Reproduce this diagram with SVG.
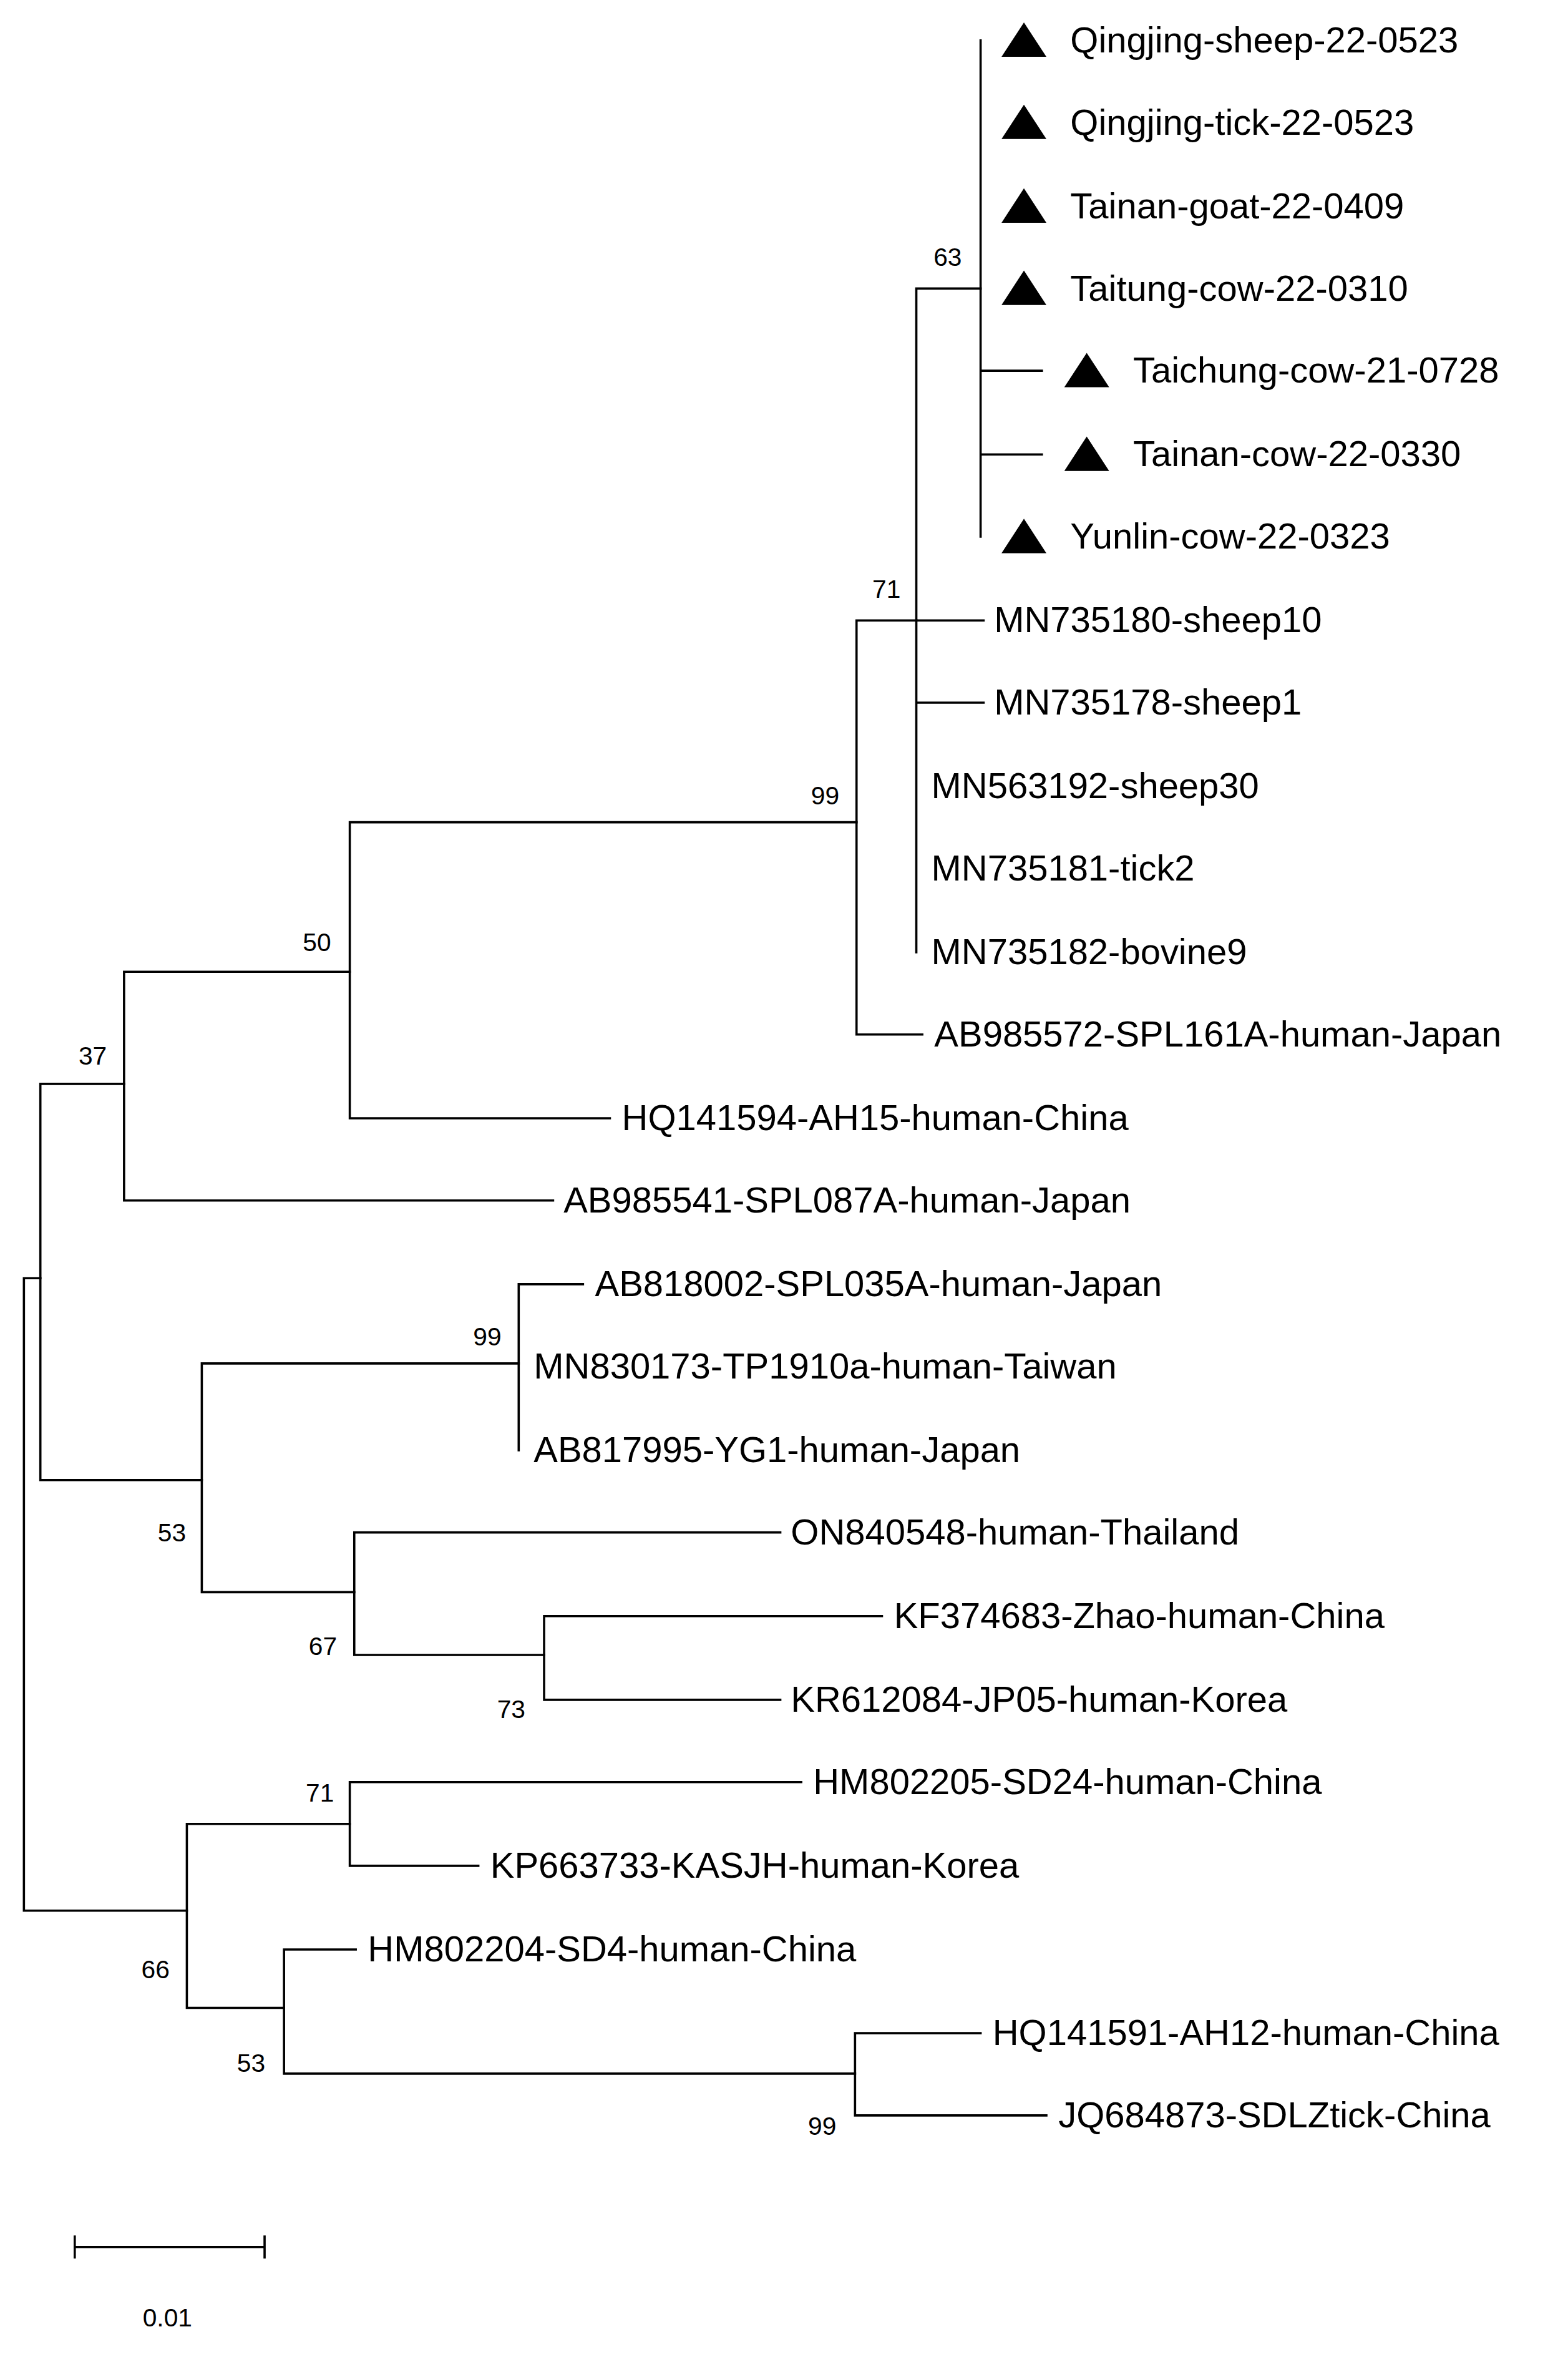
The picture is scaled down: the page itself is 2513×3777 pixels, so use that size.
<svg xmlns="http://www.w3.org/2000/svg" width="2513" height="3777" viewBox="0 0 2513 3777">
<style>
.e{stroke:#000;stroke-width:1.5;fill:none;stroke-linecap:square}
.l{font-family:"Liberation Sans",Arial,sans-serif;font-size:24.2px;fill:#000}
.b{font-family:"Liberation Sans",Arial,sans-serif;font-size:17px;fill:#000;text-anchor:middle}
.t{fill:#000}
</style>
<rect width="2513" height="3777" fill="#fff"/>
<g transform="scale(2.3957)">
<g id="connectors">
<path class="e" d="M16,855V1278M16,855H27M16,1278H125"/>
<path class="e" d="M27,725V990M27,725H83M27,990H135"/>
<path class="e" d="M83,650V803M83,650H234M83,803H370"/>
<path class="e" d="M234,550V748M234,550H573M234,748H408"/>
<path class="e" d="M573,415V692M573,415H613M573,692H617"/>
<path class="e" d="M613,193V637M613,193H656M613,415H658M613,470H658"/>
<path class="e" d="M656,27V359M656,248H697M656,304H697"/>
<path class="e" d="M135,912V1065M135,912H347M135,1065H237"/>
<path class="e" d="M347,859V970M347,859H390"/>
<path class="e" d="M237,1025V1107M237,1025H522M237,1107H364"/>
<path class="e" d="M364,1081V1137M364,1081H590M364,1137H522"/>
<path class="e" d="M125,1220V1343M125,1220H234M125,1343H190"/>
<path class="e" d="M234,1192V1248M234,1192H536M234,1248H320"/>
<path class="e" d="M190,1304V1387M190,1304H238M190,1387H572"/>
<path class="e" d="M572,1360V1415M572,1360H656M572,1415H700"/>
</g>
<g id="leaves">
<g id="n1"><polygon class="t" points="670,38 685,15 700,38"/><text class="l" x="716" y="35">Qingjing-sheep-22-0523</text></g>
<g id="n2"><polygon class="t" points="670,93 685,70 700,93"/><text class="l" x="716" y="90">Qingjing-tick-22-0523</text></g>
<g id="n3"><polygon class="t" points="670,149 685,126 700,149"/><text class="l" x="716" y="146">Tainan-goat-22-0409</text></g>
<g id="n4"><polygon class="t" points="670,204 685,181 700,204"/><text class="l" x="716" y="201">Taitung-cow-22-0310</text></g>
<g id="n5"><polygon class="t" points="712,259 727,236 742,259"/><text class="l" x="758" y="256">Taichung-cow-21-0728</text></g>
<g id="n6"><polygon class="t" points="712,315 727,292 742,315"/><text class="l" x="758" y="312">Tainan-cow-22-0330</text></g>
<g id="n7"><polygon class="t" points="670,370 685,347 700,370"/><text class="l" x="716" y="367">Yunlin-cow-22-0323</text></g>
<g id="n8"><text class="l" x="665" y="423">MN735180-sheep10</text></g>
<g id="n9"><text class="l" x="665" y="478">MN735178-sheep1</text></g>
<g id="n10"><text class="l" x="623" y="534">MN563192-sheep30</text></g>
<g id="n11"><text class="l" x="623" y="589">MN735181-tick2</text></g>
<g id="n12"><text class="l" x="623" y="645">MN735182-bovine9</text></g>
<g id="n13"><text class="l" x="625" y="700">AB985572-SPL161A-human-Japan</text></g>
<g id="n14"><text class="l" x="416" y="756">HQ141594-AH15-human-China</text></g>
<g id="n15"><text class="l" x="377" y="811">AB985541-SPL087A-human-Japan</text></g>
<g id="n16"><text class="l" x="398" y="867">AB818002-SPL035A-human-Japan</text></g>
<g id="n17"><text class="l" x="357" y="922">MN830173-TP1910a-human-Taiwan</text></g>
<g id="n18"><text class="l" x="357" y="978">AB817995-YG1-human-Japan</text></g>
<g id="n19"><text class="l" x="529" y="1033">ON840548-human-Thailand</text></g>
<g id="n20"><text class="l" x="598" y="1089">KF374683-Zhao-human-China</text></g>
<g id="n21"><text class="l" x="529" y="1145">KR612084-JP05-human-Korea</text></g>
<g id="n22"><text class="l" x="544" y="1200">HM802205-SD24-human-China</text></g>
<g id="n23"><text class="l" x="328" y="1256">KP663733-KASJH-human-Korea</text></g>
<g id="n24"><text class="l" x="246" y="1312">HM802204-SD4-human-China</text></g>
<g id="n25"><text class="l" x="664" y="1368">HQ141591-AH12-human-China</text></g>
<g id="n26"><text class="l" x="708" y="1423">JQ684873-SDLZtick-China</text></g>
</g>
<g id="support">
<text class="b" x="634" y="178">63</text>
<text class="b" x="593" y="400">71</text>
<text class="b" x="552" y="538">99</text>
<text class="b" x="212" y="636">50</text>
<text class="b" x="62" y="712">37</text>
<text class="b" x="326" y="900">99</text>
<text class="b" x="115" y="1031">53</text>
<text class="b" x="216" y="1107">67</text>
<text class="b" x="342" y="1149">73</text>
<text class="b" x="214" y="1205">71</text>
<text class="b" x="104" y="1323">66</text>
<text class="b" x="168" y="1386">53</text>
<text class="b" x="550" y="1428">99</text>
</g>
<g id="scale">
<path class="e" d="M50,1503H177M50,1496V1510M177,1496V1510"/>
<text class="b" x="112" y="1556">0.01</text>
</g>
</g>
</svg>
